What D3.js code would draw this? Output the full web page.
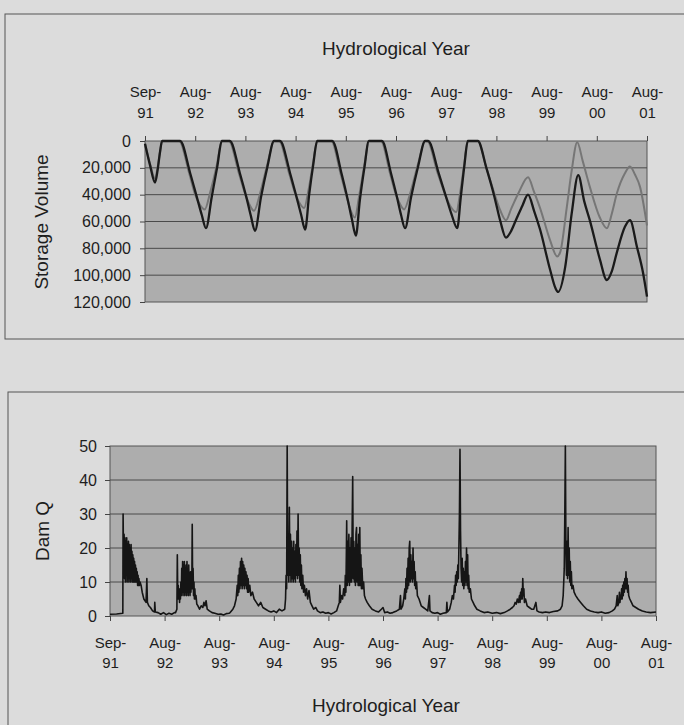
<!DOCTYPE html>
<html lang="en">
<head>
<meta charset="UTF-8">
<title>Storage Volume and Dam Q</title>
<script src="https://d3js.org/d3.v7.min.js" charset="utf-8"></script>
<style>
    body { margin: 0; background: #dcdcdc; }
    svg { display: block; }
</style>
</head>
<body>
<svg id="chart" width="684" height="725"></svg>
<script>
    // one label every 365 days from 1 Sep 1991
    const yearLabels = ["Sep-91", "Aug-92", "Aug-93", "Aug-94", "Aug-95", "Aug-96",
                        "Aug-97", "Aug-98", "Aug-99", "Aug-00", "Aug-01"];
    const storageTicks = [0, 20000, 40000, 60000, 80000, 100000, 120000];
    const damTicks = [0, 10, 20, 30, 40, 50];

    // storage volume, [years since Sep-91, volume]
    const storageDark = [
        [0, 2000], [0.1, 18000], [0.2, 31000], [0.25, 22000], [0.3, 8000], [0.34, 0],
        [0.7, 0], [0.9, 24000], [1.03, 41500], [1.13, 55000], [1.215, 65000], [1.33, 41500], [1.44, 19000], [1.53, 0],
        [1.69, 0], [1.89, 24000], [2.02, 42000], [2.11, 56000], [2.19, 67000], [2.31, 42000], [2.44, 19000], [2.57, 0],
        [2.69, 0], [2.89, 24000], [3.02, 42000], [3.11, 55000], [3.19, 66000], [3.27, 40000], [3.35, 18000], [3.43, 0],
        [3.73, 0], [3.92, 25000], [4.04, 44000], [4.12, 58000], [4.2, 70500], [4.28, 44000], [4.37, 20000], [4.46, 0],
        [4.72, 0], [4.9, 24000], [5.02, 42000], [5.1, 55000], [5.18, 65000], [5.3, 42000], [5.44, 19000], [5.58, 0],
        [5.64, 0], [5.85, 24000], [6.0, 42000], [6.11, 55000], [6.22, 65000], [6.29, 42000], [6.36, 19000], [6.43, 0],
        [6.63, 0], [6.8, 20000], [6.95, 40000], [7.08, 60000], [7.19, 72000], [7.28, 68000], [7.4, 58000], [7.52, 48000],
        [7.63, 40000], [7.75, 52000], [7.87, 66000], [8.07, 96000], [8.18, 110000], [8.23, 112500], [8.37, 94000],
        [8.5, 54000], [8.63, 25500], [8.75, 45000], [8.86, 59000], [9.06, 88000], [9.2, 103600], [9.3, 97000],
        [9.4, 83000], [9.56, 64000], [9.66, 59000], [9.8, 79000], [9.92, 98000], [10, 116000]
    ];
    const storageGrey = [
        [0, 2000], [0.1, 17000], [0.2, 28000], [0.25, 20000], [0.3, 8000], [0.34, 0],
        [0.68, 0], [0.88, 24000], [1.0, 40000], [1.1, 48000], [1.19, 51000], [1.3, 38000], [1.43, 18000], [1.53, 0],
        [1.67, 0], [1.87, 24000], [2.0, 40000], [2.09, 48000], [2.17, 52000], [2.3, 38000], [2.44, 17000], [2.57, 0],
        [2.67, 0], [2.87, 24000], [3.0, 40000], [3.09, 47000], [3.17, 50000], [3.26, 36000], [3.35, 16000], [3.43, 0],
        [3.71, 0], [3.9, 25000], [4.02, 42000], [4.1, 52000], [4.18, 57000], [4.27, 40000], [4.37, 18000], [4.46, 0],
        [4.7, 0], [4.88, 24000], [5.0, 40000], [5.08, 47000], [5.16, 51000], [5.29, 38000], [5.44, 17000], [5.58, 0],
        [5.62, 0], [5.83, 24000], [5.98, 40000], [6.09, 49000], [6.2, 53000], [6.28, 38000], [6.36, 17000], [6.43, 0],
        [6.63, 0], [6.8, 20000], [6.95, 38000], [7.08, 52000], [7.19, 59000], [7.3, 50000], [7.45, 38000], [7.63, 27000],
        [7.75, 38000], [7.87, 50000], [8.07, 74000], [8.21, 86000], [8.27, 83000], [8.4, 50000], [8.5, 22000],
        [8.61, 1000], [8.72, 15000], [8.86, 34000], [9.06, 57000], [9.2, 65000], [9.3, 54000], [9.4, 39000],
        [9.56, 24000], [9.66, 19000], [9.76, 25000], [9.86, 34000], [10, 63000]
    ];

    // dam discharge, [years since Sep-91, Q], one array per hydrological year
    const damQ1 = [
        [0, 0.5], [0.12, 0.6], [0.235, 0.8], [0.24, 30], [0.25, 12], [0.258, 24], [0.266, 11], [0.274, 23], [0.282, 10],
        [0.29, 22], [0.298, 12], [0.306, 23], [0.314, 10], [0.322, 21], [0.33, 11], [0.338, 22], [0.346, 10], [0.354, 21],
        [0.362, 11], [0.37, 20], [0.378, 10], [0.386, 21], [0.394, 11], [0.402, 19], [0.41, 10], [0.418, 18], [0.426, 10],
        [0.434, 17], [0.442, 10], [0.45, 16], [0.458, 10], [0.466, 15], [0.474, 10], [0.482, 14], [0.49, 10], [0.498, 13],
        [0.506, 9], [0.514, 12], [0.522, 9], [0.53, 11], [0.54, 9], [0.55, 10], [0.57, 9], [0.59, 7], [0.62, 5], [0.66, 4],
        [0.675, 11], [0.685, 4], [0.71, 3], [0.74, 2.5], [0.78, 1.5], [0.815, 1.2], [0.82, 4], [0.83, 1.2], [0.88, 1],
        [0.93, 0.5], [0.98, 1], [1.03, 0.4], [1.08, 0.8], [1.13, 0.5], [1.18, 1]
    ];
    const damQ2 = [
        [1.2, 1], [1.225, 2], [1.233, 18], [1.242, 5], [1.25, 9], [1.258, 5], [1.266, 8], [1.274, 4], [1.282, 7], [1.29, 5],
        [1.298, 10], [1.306, 6], [1.314, 14], [1.322, 7], [1.33, 16], [1.338, 6], [1.346, 15], [1.354, 7], [1.362, 16],
        [1.37, 6], [1.378, 14], [1.386, 7], [1.394, 15], [1.402, 6], [1.41, 16], [1.418, 7], [1.426, 13], [1.434, 6],
        [1.442, 15], [1.45, 7], [1.458, 12], [1.466, 6], [1.474, 13], [1.482, 7], [1.49, 12], [1.498, 8], [1.506, 27],
        [1.514, 8], [1.522, 14], [1.53, 6], [1.538, 10], [1.546, 5], [1.554, 8], [1.562, 5], [1.575, 6], [1.59, 3.5],
        [1.61, 3], [1.64, 2], [1.67, 3], [1.7, 2.5], [1.72, 4], [1.74, 3], [1.76, 4.5], [1.78, 2], [1.82, 1.5], [1.87, 1],
        [1.92, 0.8], [1.98, 0.5], [2.03, 0.6], [2.08, 0.3], [2.13, 0.7], [2.18, 0.8]
    ];
    const damQ3 = [
        [2.2, 1], [2.25, 2], [2.28, 3], [2.31, 5], [2.33, 9], [2.34, 6], [2.35, 12], [2.36, 7], [2.37, 14], [2.38, 8],
        [2.39, 16], [2.4, 9], [2.41, 17], [2.42, 8], [2.43, 16], [2.44, 9], [2.45, 15], [2.46, 8], [2.47, 14], [2.48, 9],
        [2.49, 13], [2.5, 8], [2.51, 12], [2.52, 7], [2.53, 11], [2.54, 7], [2.56, 9], [2.58, 6], [2.61, 7], [2.64, 5],
        [2.68, 4], [2.72, 3], [2.76, 4], [2.8, 2.5], [2.85, 2], [2.9, 1.5], [2.95, 1.2], [3.0, 1.5], [3.05, 1], [3.1, 2],
        [3.15, 1.5]
    ];
    const damQ4 = [
        [3.2, 2], [3.215, 5], [3.225, 12], [3.235, 8], [3.245, 50], [3.255, 12], [3.265, 20], [3.275, 10], [3.285, 32],
        [3.295, 12], [3.305, 24], [3.315, 10], [3.325, 22], [3.335, 11], [3.345, 20], [3.355, 10], [3.365, 22], [3.375, 11],
        [3.385, 19], [3.395, 10], [3.405, 21], [3.415, 12], [3.425, 25], [3.435, 11], [3.445, 30], [3.455, 12], [3.465, 20],
        [3.475, 10], [3.485, 18], [3.495, 9], [3.505, 15], [3.515, 8], [3.53, 12], [3.545, 7], [3.56, 9], [3.58, 6],
        [3.6, 8], [3.62, 5], [3.645, 7.5], [3.67, 4], [3.7, 3], [3.73, 2], [3.77, 2.5], [3.8, 1.5], [3.85, 1], [3.9, 1.2],
        [3.95, 0.8], [4.0, 1], [4.05, 0.6], [4.1, 1], [4.15, 1.5]
    ];
    const damQ5 = [
        [4.18, 3], [4.2, 4], [4.21, 9], [4.22, 4], [4.24, 6], [4.26, 5], [4.28, 8], [4.3, 6], [4.31, 12], [4.32, 7],
        [4.33, 20], [4.335, 28], [4.345, 9], [4.355, 22], [4.365, 10], [4.375, 24], [4.385, 9], [4.395, 20], [4.405, 10],
        [4.415, 23], [4.425, 10], [4.435, 26], [4.445, 41], [4.455, 11], [4.465, 22], [4.475, 10], [4.485, 20], [4.495, 9],
        [4.505, 24], [4.515, 26], [4.525, 10], [4.535, 21], [4.545, 9], [4.555, 24], [4.565, 9], [4.575, 26], [4.585, 9],
        [4.595, 18], [4.605, 8], [4.615, 14], [4.63, 8], [4.645, 10], [4.66, 6], [4.68, 5], [4.71, 4], [4.75, 3], [4.8, 2],
        [4.86, 1.5], [4.92, 1.2], [4.97, 2], [5.0, 2.5], [5.03, 1], [5.08, 1.2], [5.13, 0.8]
    ];
    const damQ6 = [
        [5.18, 1], [5.25, 1.5], [5.3, 2], [5.32, 6], [5.33, 2], [5.36, 3], [5.38, 5], [5.4, 8], [5.41, 5], [5.42, 11],
        [5.43, 7], [5.44, 14], [5.45, 8], [5.46, 17], [5.47, 9], [5.48, 20], [5.49, 22], [5.5, 10], [5.51, 18], [5.52, 11],
        [5.53, 16], [5.54, 10], [5.55, 20], [5.56, 11], [5.57, 16], [5.58, 9], [5.59, 13], [5.6, 8], [5.615, 10], [5.63, 6],
        [5.66, 5], [5.7, 3], [5.74, 2.5], [5.78, 2], [5.82, 1.5], [5.85, 6], [5.86, 1.5], [5.9, 1], [5.95, 0.8], [6.0, 1],
        [6.05, 0.5], [6.1, 0.8], [6.16, 1], [6.17, 4], [6.18, 1.2]
    ];
    const damQ7 = [
        [6.22, 2], [6.25, 4], [6.27, 6], [6.29, 5], [6.31, 9], [6.32, 7], [6.33, 12], [6.34, 9], [6.35, 13], [6.36, 10],
        [6.37, 15], [6.38, 11], [6.39, 20], [6.4, 30], [6.41, 49], [6.42, 25], [6.43, 14], [6.44, 10], [6.45, 17], [6.46, 9],
        [6.47, 14], [6.48, 8], [6.49, 13], [6.5, 9], [6.51, 16], [6.52, 10], [6.53, 20], [6.54, 9], [6.55, 18], [6.56, 8],
        [6.57, 12], [6.58, 7], [6.6, 8], [6.62, 5], [6.65, 4], [6.68, 3], [6.72, 2], [6.78, 1.5], [6.85, 1], [6.92, 1.2],
        [7.0, 0.8], [7.08, 1], [7.15, 0.7]
    ];
    const damQ8 = [
        [7.22, 1], [7.28, 1.5], [7.33, 2], [7.37, 2.5], [7.4, 3], [7.42, 4], [7.44, 3.5], [7.46, 5], [7.48, 4], [7.5, 6],
        [7.51, 4], [7.52, 7], [7.53, 5], [7.54, 8], [7.55, 5], [7.56, 11], [7.57, 6], [7.58, 8], [7.59, 4], [7.61, 5],
        [7.64, 3], [7.68, 2.5], [7.72, 2], [7.76, 2], [7.8, 4], [7.82, 1.5], [7.86, 1.2], [7.92, 1], [7.98, 1.2], [8.05, 1],
        [8.12, 1.3]
    ];
    const damQ9 = [
        [8.2, 1.5], [8.25, 2], [8.28, 3], [8.3, 6], [8.31, 10], [8.32, 14], [8.33, 30], [8.34, 50], [8.35, 20], [8.36, 12],
        [8.37, 22], [8.38, 11], [8.39, 26], [8.4, 12], [8.41, 20], [8.42, 10], [8.43, 16], [8.44, 9], [8.45, 13], [8.46, 8],
        [8.48, 9], [8.5, 7], [8.53, 6], [8.57, 5], [8.62, 4], [8.67, 3], [8.73, 2], [8.8, 1.5], [8.87, 1.2], [8.94, 1],
        [9.0, 1.2], [9.07, 0.8], [9.14, 1]
    ];
    const damQ10 = [
        [9.2, 1.5], [9.24, 2], [9.27, 3], [9.29, 6], [9.3, 3], [9.32, 4], [9.33, 7], [9.34, 4], [9.35, 6], [9.36, 5],
        [9.37, 8], [9.38, 5], [9.39, 9], [9.4, 6], [9.41, 10], [9.42, 7], [9.43, 11], [9.44, 8], [9.45, 13], [9.46, 8],
        [9.47, 11], [9.48, 7], [9.49, 9], [9.5, 6], [9.52, 5], [9.55, 4], [9.58, 3], [9.63, 2.5], [9.68, 2], [9.75, 1.5],
        [9.82, 1.2], [9.9, 1], [10, 1.2]
    ];
    const damQ = [].concat(damQ1, damQ2, damQ3, damQ4, damQ5, damQ6, damQ7, damQ8, damQ9, damQ10);

    const font = "'Liberation Sans', Arial, sans-serif";
    const plotFill = "#adadad";
    const svg = d3.select("#chart");

    // panel frames (right side runs off the page as in the scan)
    svg.append("rect").attr("x", 5).attr("y", 14).attr("width", 720).attr("height", 325)
        .attr("fill", "none").attr("stroke", "#555");
    svg.append("rect").attr("x", 8).attr("y", 392).attr("width", 720).attr("height", 400)
        .attr("fill", "none").attr("stroke", "#555");

    // splits "Aug-92" into two lines under/over the tick
    const twoLines = (g, y1, y2) => {
        g.selectAll(".tick text").each(function (d) {
            const parts = yearLabels[d].split("-");
            const t = d3.select(this).text(null).attr("dy", null).attr("y", null);
            t.append("tspan").attr("x", 0).attr("y", y1).text(parts[0] + "-");
            t.append("tspan").attr("x", 0).attr("y", y2).text(parts[1]);
        });
    };

    const drawPanel = (box, yDomain, yTicks, yFormat, labelPad, xOnTop) => {
        const x = d3.scaleLinear().domain([0, yearLabels.length - 1]).range([box.left, box.right]);
        const y = d3.scaleLinear().domain(yDomain).range(xOnTop ? [box.top, box.bottom] : [box.bottom, box.top]);

        svg.append("rect")
            .attr("x", box.left).attr("y", box.top)
            .attr("width", box.right - box.left).attr("height", box.bottom - box.top)
            .attr("fill", plotFill).attr("stroke", "#555");

        // gridlines
        svg.append("g").selectAll("line")
            .data(yTicks.slice(1, -1))
            .join("line")
            .attr("x1", box.left).attr("x2", box.right)
            .attr("y1", d => y(d)).attr("y2", d => y(d))
            .attr("stroke", "#4a4a4a").attr("stroke-width", 1);

        const gy = svg.append("g")
            .attr("transform", `translate(${box.left},0)`)
            .call(d3.axisLeft(y).tickValues(yTicks).tickSize(5).tickPadding(labelPad).tickFormat(yFormat));
        gy.select(".domain").remove();
        gy.attr("font-family", font).attr("font-size", 16);
        gy.selectAll("line").attr("stroke", "#444");
        gy.selectAll("text").attr("fill", "#1e1e1e");

        const axis = xOnTop ? d3.axisTop(x) : d3.axisBottom(x);
        const gx = svg.append("g")
            .attr("transform", `translate(0,${xOnTop ? box.top : box.bottom})`)
            .call(axis.tickValues(d3.range(yearLabels.length)).tickSize(5));
        gx.select(".domain").remove();
        gx.attr("font-family", font).attr("font-size", 15);
        gx.selectAll("line").attr("stroke", "#444");
        gx.selectAll("text").attr("fill", "#1e1e1e");
        if (xOnTop) twoLines(gx, -44, -23);
        else twoLines(gx, 32, 52);

        return {x, y};
    };

    // ---- top: storage volume ----
    const storageBox = {left: 145, right: 647, top: 141, bottom: 302};
    const storagePanel = drawPanel(storageBox, [0, 120000], storageTicks, d3.format(","), 9, true);

    const storageLine = d3.line()
        .x(d => storagePanel.x(d[0]))
        .y(d => storagePanel.y(d[1]))
        .curve(d3.curveMonotoneX);

    svg.append("path").datum(storageGrey)
        .attr("d", storageLine)
        .attr("fill", "none").attr("stroke", "#767676").attr("stroke-width", 2);
    svg.append("path").datum(storageDark)
        .attr("d", storageLine)
        .attr("fill", "none").attr("stroke", "#1a1a1a").attr("stroke-width", 2.3);

    svg.append("text")
        .attr("x", 396).attr("y", 55)
        .attr("text-anchor", "middle")
        .attr("font-family", font).attr("font-size", 19).attr("fill", "#1e1e1e")
        .text("Hydrological Year");
    svg.append("text")
        .attr("transform", "translate(48,222) rotate(-90)")
        .attr("text-anchor", "middle")
        .attr("font-family", font).attr("font-size", 19).attr("fill", "#1e1e1e")
        .text("Storage Volume");

    // ---- bottom: dam discharge ----
    const damBox = {left: 110, right: 656, top: 446, bottom: 616};
    const damPanel = drawPanel(damBox, [0, 50], damTicks, d3.format("d"), 8, false);

    const qLine = d3.line()
        .x(d => damPanel.x(d[0]))
        .y(d => damPanel.y(d[1]));

    svg.append("path").datum(damQ)
        .attr("d", qLine)
        .attr("fill", "none").attr("stroke", "#151515").attr("stroke-width", 1.6)
        .attr("stroke-linejoin", "round");

    svg.append("text")
        .attr("x", 386).attr("y", 712)
        .attr("text-anchor", "middle")
        .attr("font-family", font).attr("font-size", 19).attr("fill", "#1e1e1e")
        .text("Hydrological Year");
    svg.append("text")
        .attr("transform", "translate(49,531) rotate(-90)")
        .attr("text-anchor", "middle")
        .attr("font-family", font).attr("font-size", 19).attr("fill", "#1e1e1e")
        .text("Dam Q");
</script>
</body>
</html>
